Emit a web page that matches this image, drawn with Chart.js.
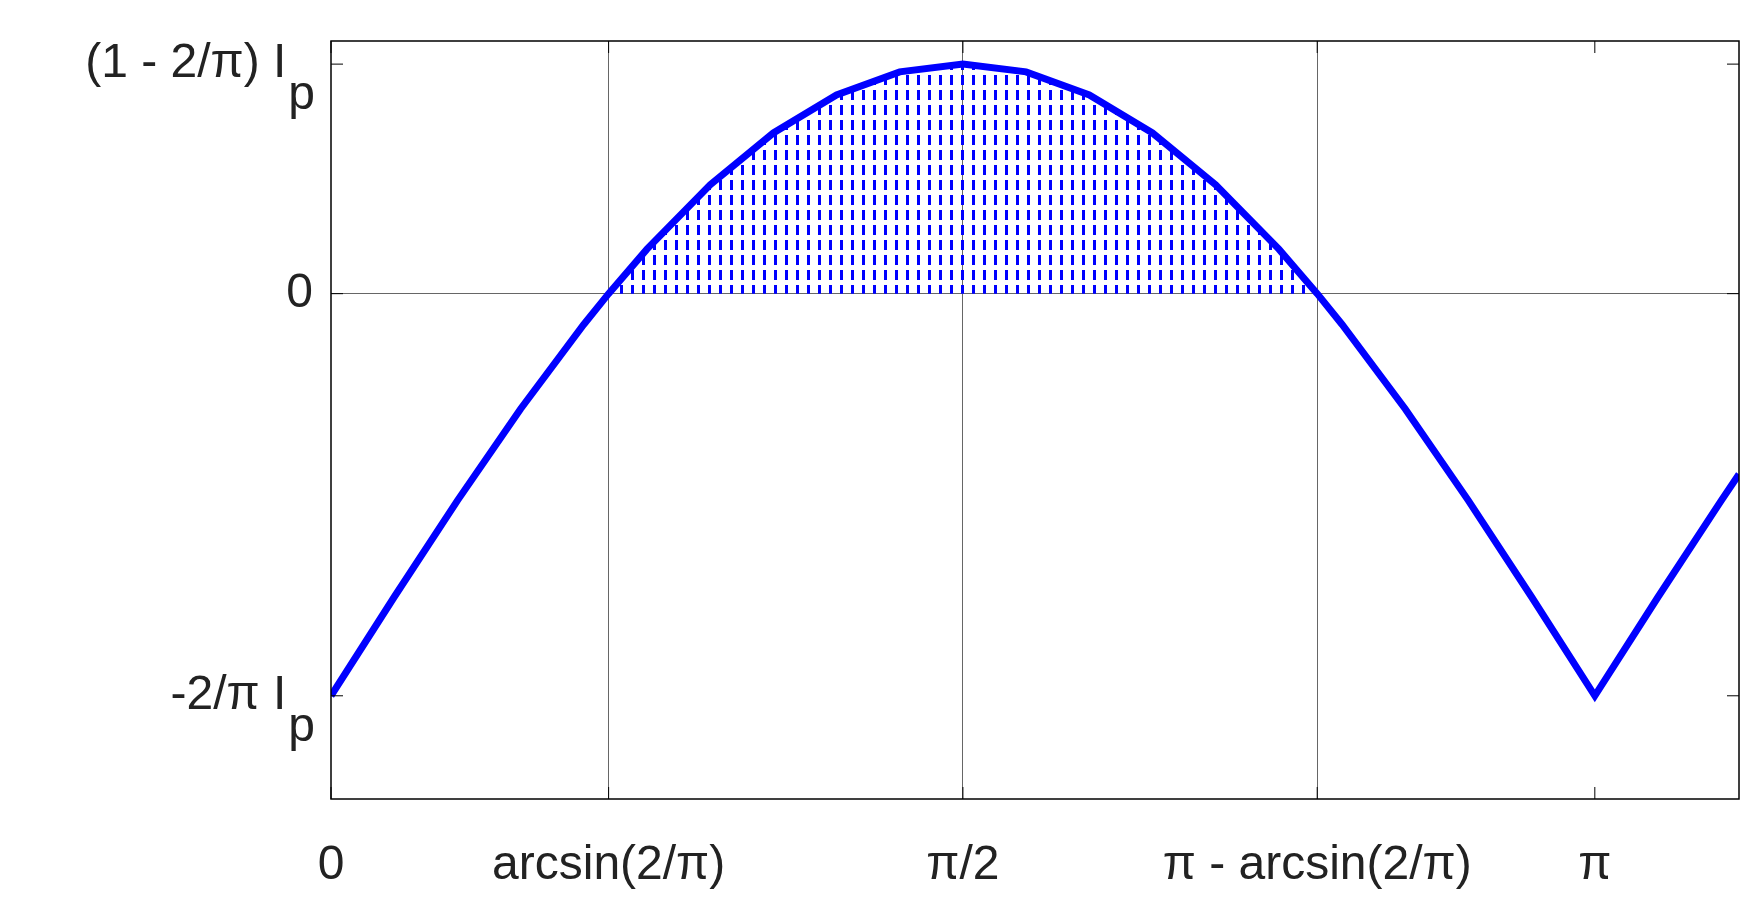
<!DOCTYPE html>
<html><head><meta charset="utf-8">
<script src="https://cdn.jsdelivr.net/npm/chart.js@4/dist/chart.umd.min.js"></script>
<style>html,body{margin:0;background:#fff}#w{width:1751px;height:918px}</style>
</head><body><div id="w"><canvas id="c"></canvas></div>
<script>
const curveX=[0,0.1571,0.3142,0.4712,0.6283,0.6901,0.7854,0.9425,1.0996,1.2566,1.4137,1.5708,1.7279,1.8850,2.0420,2.1991,2.3562,2.4515,2.5133,2.6704,2.8274,2.9845,3.1416,3.2987,3.4558,3.50];
const curveY=[-0.6366,-0.4802,-0.3276,-0.1826,-0.0488,0,0.0705,0.1724,0.2544,0.3145,0.3511,0.3634,0.3511,0.3145,0.2544,0.1724,0.0705,0,-0.0488,-0.1826,-0.3276,-0.4802,-0.6366,-0.4802,-0.3276,-0.2858];
const xTicks=[0,0.6901,1.5708,2.4515,3.1416];
const xTickLabels=['0','arcsin(2/π)','π/2','π - arcsin(2/π)','π'];
const yTicks=[-0.6366,0,0.3634];
const yTickLabels=[['-2/π I','p'],['0',''],['(1 - 2/π) I','p']];
const gridX=[0.6901,1.5708,2.4515];
const gridY=[0];

const pts=curveX.map((x,i)=>({x,y:curveY[i]}));
const shade=pts.filter(p=>p.y>=0);
const ctx=document.getElementById('c').getContext('2d');
const pc=document.createElement('canvas');pc.width=11;pc.height=15;
const pctx=pc.getContext('2d');pctx.fillStyle='#0000ff';pctx.fillRect(4,0,3,10);
const pattern=ctx.createPattern(pc,'repeat');

const F='"Liberation Sans", Arial, sans-serif';
const yLabelPlugin={id:'yl',afterDraw(ch){
  const c=ch.ctx,y=ch.scales.y,a=ch.chartArea;
  c.save();c.fillStyle='#222';c.textBaseline='middle';
  yTicks.forEach((v,i)=>{
    const py=y.getPixelForValue(v);const [m,s]=yTickLabels[i];
    c.font='48px '+F;
    const sw=s?c.measureText(s).width:0;
    const right=a.left-16;
    c.textAlign='right';
    c.fillText(m,right-sw-2,py);
    if(s){c.textAlign='left';c.fillText(s,right-sw,py+32);}
    c.strokeStyle='#000';c.lineWidth=1;
    c.beginPath();c.moveTo(a.left,py);c.lineTo(a.left+12,py);c.moveTo(a.right,py);c.lineTo(a.right-12,py);c.stroke();
  });
  const x=ch.scales.x;
  xTicks.forEach(v=>{const px=x.getPixelForValue(v);c.beginPath();c.moveTo(px,a.bottom);c.lineTo(px,a.bottom-12);c.moveTo(px,a.top);c.lineTo(px,a.top+12);c.stroke();});
  c.lineWidth=1.5;c.strokeRect(a.left,a.top,a.right-a.left,a.bottom-a.top);
  c.restore();
}};

new Chart(ctx,{type:'scatter',
 data:{datasets:[
  {data:shade,showLine:true,fill:'origin',backgroundColor:pattern,borderWidth:0,pointRadius:0,tension:0.4},
  {data:pts,showLine:true,borderColor:'#0000ff',borderWidth:7,pointRadius:0,fill:false,tension:0}
 ]},
 plugins:[yLabelPlugin],
 options:{responsive:true,maintainAspectRatio:false,animation:false,
  layout:{padding:{top:41,right:12,left:0,bottom:0}},
  plugins:{legend:{display:false},tooltip:{enabled:false}},
  scales:{
   x:{type:'linear',min:0,max:3.50,border:{display:false},
    afterBuildTicks:s=>{s.ticks=xTicks.map(v=>({value:v}));},
    afterFit:s=>{s.height=119;},
    ticks:{autoSkip:false,maxRotation:0,padding:38,color:'#222',font:{size:48,family:F},
      callback:(v,i)=>xTickLabels[i]},
    grid:{drawTicks:false,color:c=>gridX.some(g=>Math.abs(g-c.tick.value)<1e-6)?'#666':'rgba(0,0,0,0)',lineWidth:1}},
   y:{min:-0.80,max:0.40,border:{display:false},
    afterBuildTicks:s=>{s.ticks=yTicks.map(v=>({value:v}));},
    afterFit:s=>{s.width=331;},
    ticks:{display:false},
    grid:{drawTicks:false,color:c=>gridY.some(g=>Math.abs(g-c.tick.value)<1e-6)?'#666':'rgba(0,0,0,0)',lineWidth:1}}
  }}});
</script></body></html>
